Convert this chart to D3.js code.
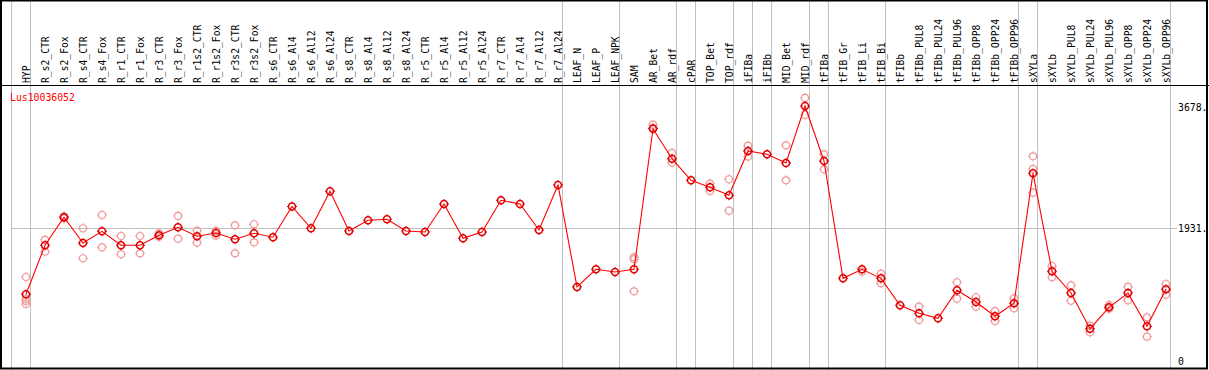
<!DOCTYPE html>
<html>
<head>
<meta charset="utf-8">
<script src="https://d3js.org/d3.v7.min.js"></script>
<style>
  body { margin: 0; background: #fff; }
  text { font-family: 'DejaVu Sans Mono', monospace; }
</style>
</head>
<body>
<div id="visualisation"></div>
<script>
// sample names along the top
var categories = ['HYP','R_s2_CTR','R_s2_Fox','R_s4_CTR','R_s4_Fox','R_r1_CTR','R_r1_Fox','R_r3_CTR','R_r3_Fox',
  'R_r1s2_CTR','R_r1s2_Fox','R_r3s2_CTR','R_r3s2_Fox','R_s6_CTR','R_s6_Al4','R_s6_Al12','R_s6_Al24',
  'R_s8_CTR','R_s8_Al4','R_s8_Al12','R_s8_Al24','R_r5_CTR','R_r5_Al4','R_r5_Al12','R_r5_Al24',
  'R_r7_CTR','R_r7_Al4','R_r7_Al12','R_r7_Al24','LEAF_N','LEAF_P','LEAF_NPK','SAM','AR_Bet','AR_rdf',
  'cPAR','TOP_Bet','TOP_rdf','iFIBa','iFIBb','MID_Bet','MID_rdf','tFIBa','tFIB_Gr','tFIB_Li','tFIB_Bi',
  'tFIBb','tFIBb_PUL8','tFIBb_PUL24','tFIBb_PUL96','tFIBb_OPP8','tFIBb_OPP24','tFIBb_OPP96',
  'sXYLa','sXYLb','sXYLb_PUL8','sXYLb_PUL24','sXYLb_PUL96','sXYLb_OPP8','sXYLb_OPP24','sXYLb_OPP96'];

// mean expression per sample
var means = [972,1681,2086,1714,1883,1681,1681,1825,1941,1811,1859,1768,1854,1797,2242,1927,2462,
  1888,2042,2057,1888,1873,2278,1782,1873,2332,2278,1902,2553,1078,1334,1295,1334,3367,2933,
  2621,2520,2404,3045,2997,2871,3696,2900,1203,1334,1203,813,697,625,1030,861,654,842,
  2722,1305,991,474,784,991,509,1044];

// individual replicates per sample
var replicates = [[1222,904,875,832],[1758,1588],[2100,2070],[1927,1493],[2119,1652],[1815,1551],
  [1815,1565],[1854,1805],[2105,1776],[1892,1718],[1888,1820],[1970,1565],[1985,1724],
  [],[],[],[],[],[],[],[],[],[],[],[],[],[],[],[],
  [],[],[],[1507,1480,1015],[3425,3380],[3016,2876],[],[2572,2466],[2636,2181],[3122,2962],[],
  [3127,2621],[3812,3566],[2997,2780],[],[1299],[1270,1131],[],[793,600],[],[1146,908],[929,793],
  [730,586],[914,770],[2968,2785,2442],[1381,1218],[1102,879],[518,422],[817,764],[1078,885],
  [639,359],[1121,966]];

// last sample of each group (separator drawn after it)
var groupEnds = ['HYP','R_r7_Al24','LEAF_NPK','AR_rdf','cPAR','TOP_rdf','iFIBa','iFIBb',
  'MID_rdf','tFIBa','tFIB_Bi','tFIBb_OPP96','sXYLa','sXYLb_OPP96'];

var yTicks = [0, 1931, 3678];
var geneName = 'Lus10036052';

var W = 1209, H = 370;
var svg = d3.select('#visualisation').append('svg')
    .attr('width', W)
    .attr('height', H);

var x = d3.scalePoint().domain(categories).range([26, 1166]);
var y = d3.scaleLinear().domain([0, 3678]).range([361.5, 107.2]);
var step = x.step();

// separators
var sepX = [x(categories[0]) - step + 5].concat(groupEnds.map(function(d) { return x(d) + 5; }));
svg.selectAll('.sep').data(sepX).enter().append('line')
    .attr('x1', function(d) { return Math.round(d) - 0.5; })
    .attr('x2', function(d) { return Math.round(d) - 0.5; })
    .attr('y1', 0).attr('y2', H)
    .attr('stroke', '#c0c0c0').attr('stroke-width', 1);

// horizontal grid line at the middle tick
svg.append('line')
    .attr('x1', 11).attr('x2', 1177)
    .attr('y1', Math.round(y(1931)) + 0.5).attr('y2', Math.round(y(1931)) + 0.5)
    .attr('stroke', '#c0c0c0').attr('stroke-width', 1);

// header divider and frame
svg.append('line')
    .attr('x1', 0).attr('x2', W).attr('y1', 85.5).attr('y2', 85.5)
    .attr('stroke', '#000').attr('stroke-width', 1);
svg.append('rect')
    .attr('x', 1).attr('y', 0.5).attr('width', 1206).attr('height', 368)
    .attr('fill', 'none').attr('stroke', '#000').attr('stroke-width', 2);

// sample labels, reading upwards from just above the divider
svg.selectAll('.cat').data(categories).enter().append('text')
    .attr('transform', function(d) { return 'translate(' + x(d) + ',83) rotate(-90)'; })
    .attr('dy', '0.36em')
    .attr('text-anchor', 'start')
    .attr('font-size', '9.7px')
    .attr('fill', '#000')
    .text(function(d) { return d; });

// gene name
svg.append('text')
    .attr('x', 10).attr('y', 101)
    .attr('font-size', '9.8px')
    .attr('fill', '#ff0000')
    .text(geneName);

// right axis
var axis = svg.append('g')
    .attr('transform', 'translate(1170,0)')
    .call(d3.axisRight(y).tickValues(yTicks).tickSize(0).tickPadding(8)
        .tickFormat(function(d) { return d === 0 ? '0' : d + '.'; }));
axis.select('.domain').remove();
axis.selectAll('text')
    .attr('font-family', 'DejaVu Sans Mono, monospace')
    .attr('font-size', '9.8px')
    .attr('fill', '#000');

function marker(g, color, w) {
    g.append('circle').attr('r', 3.5)
        .attr('fill', 'none').attr('stroke', color).attr('stroke-width', w);
    g.append('path')
        .attr('d', 'M0,-5V-3.5M0,3.5V5M-5,0H-3.5M3.5,0H5')
        .attr('stroke', color).attr('stroke-width', 1);
}

// replicates
var repPts = [];
replicates.forEach(function(r, i) {
    r.forEach(function(v) { repPts.push({ c: categories[i], v: v }); });
});
svg.selectAll('.rep').data(repPts).enter().append('g')
    .attr('transform', function(d) { return 'translate(' + x(d.c) + ',' + y(d.v) + ')'; })
    .each(function() { marker(d3.select(this), '#f09a9a', 1.2); });

// mean line
var valueline = d3.line()
    .x(function(d, i) { return x(categories[i]); })
    .y(function(d) { return y(d); });
svg.append('path')
    .datum(means)
    .attr('fill', 'none')
    .attr('stroke', '#ff0000')
    .attr('stroke-width', 1.1)
    .attr('d', valueline);

// means
svg.selectAll('.mean').data(means).enter().append('g')
    .attr('transform', function(d, i) { return 'translate(' + x(categories[i]) + ',' + y(d) + ')'; })
    .each(function() { marker(d3.select(this), '#e00000', 1.6); });
</script>
</body>
</html>
